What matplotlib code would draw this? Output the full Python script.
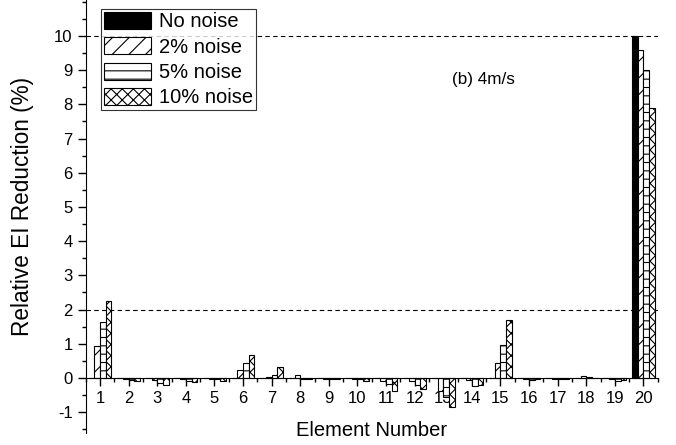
import matplotlib
matplotlib.use("Agg")
import matplotlib.pyplot as plt
from matplotlib.ticker import MultipleLocator, FixedLocator
import numpy as np

plt.rcParams['font.family'] = ['Liberation Sans', 'DejaVu Sans']
plt.rcParams['hatch.linewidth'] = 0.8
plt.rcParams['axes.unicode_minus'] = False

elements = list(range(1, 21))
no_noise = [0, 0, 0, 0, 0, 0, 0, 0, 0, 0,
            0, 0, 0, 0, 0, 0, 0, 0, 0, 10.0]
noise_2 = [0.92, -0.03, -0.05, -0.03, -0.02, 0.23, 0.02, 0.09, -0.02, -0.02,
           -0.08, -0.08, -0.38, -0.05, 0.45, -0.04, -0.02, 0.05, -0.03, 9.6]
noise_5 = [1.63, -0.05, -0.15, -0.10, -0.03, 0.43, 0.09, -0.02, -0.03, -0.03,
           -0.18, -0.20, -0.55, -0.25, 0.96, -0.05, -0.04, 0.04, -0.08, 9.0]
noise_10 = [2.26, -0.10, -0.20, -0.12, -0.08, 0.66, 0.31, -0.03, -0.04, -0.08,
            -0.38, -0.32, -0.84, -0.20, 1.70, -0.03, -0.03, 0.00, -0.05, 7.9]

series = [
    ("No noise", no_noise, dict(color="black", hatch=None)),
    ("2% noise", noise_2, dict(color="white", hatch="//")),
    ("5% noise", noise_5, dict(color="white", hatch="--")),
    ("10% noise", noise_10, dict(color="white", hatch="xxx")),
]

fig = plt.figure(figsize=(6.76, 4.45), dpi=100)
ax = fig.add_axes([0.1268, 0.0277, 0.8462, 0.9723])

x = np.array(elements, dtype=float)
width = 0.2
offsets = [-0.3, -0.1, 0.1, 0.3]
for (label, vals, style), off in zip(series, offsets):
    ax.bar(x + off, vals, width, label=label, facecolor=style["color"],
           edgecolor="black", linewidth=0.8, hatch=style["hatch"], zorder=3)

# reference lines
ax.axhline(10, color="black", linestyle=(0, (4, 3)), linewidth=0.8, zorder=2)
ax.axhline(2, color="black", linestyle=(0, (4, 3)), linewidth=0.8, zorder=2)

ax.set_xlim(0.5, 20.5)
ax.set_ylim(-1.6, 11.05)

ax.spines['top'].set_visible(False)
ax.spines['right'].set_visible(False)
ax.spines['bottom'].set_position(('data', 0))
ax.spines['bottom'].set_zorder(4)

ax.xaxis.set_major_locator(FixedLocator(elements))
ax.xaxis.set_minor_locator(MultipleLocator(0.5))
ax.yaxis.set_major_locator(FixedLocator(list(range(-1, 11))))
ax.yaxis.set_minor_locator(MultipleLocator(0.5))
ax.tick_params(which='major', direction='out', length=6, width=1, labelsize=12)
ax.tick_params(which='minor', direction='out', length=3, width=1)

ax.set_xlabel("Element Number", fontsize=14.5)
ax.xaxis.set_label_coords(0.5, -0.016)
ax.xaxis.label.set_verticalalignment('bottom')
ax.set_ylabel("Relative EI Reduction (%)", fontsize=16.3)
ax.yaxis.set_label_coords(-0.111, 0.523)
ax.yaxis.label.set_verticalalignment('center')

ax.text(13.3, 8.74, "(b) 4m/s", fontsize=12.3, va="center", ha="left")

leg = ax.legend(loc="upper left", bbox_to_anchor=(0.027, 0.979), fontsize=14.5,
                frameon=True, fancybox=False, handlelength=2.3, handleheight=0.9,
                handletextpad=0.4, labelspacing=0.3, borderpad=0.15,
                borderaxespad=0.0)
leg.get_frame().set_edgecolor("black")
leg.get_frame().set_linewidth(0.8)
leg.set_zorder(5)

fig.savefig("out.png", dpi=100)
